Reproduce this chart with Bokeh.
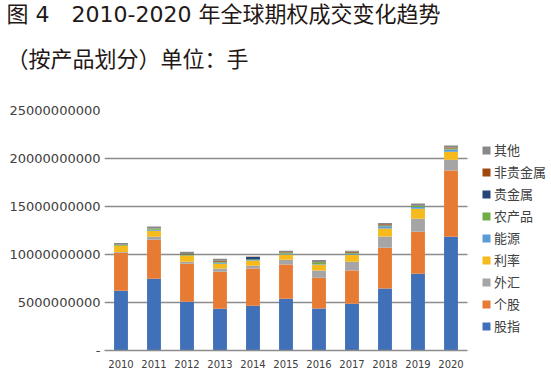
from bokeh.plotting import figure
from bokeh.models import Range1d, Legend, LegendItem, Title, FixedTicker
from bokeh.embed import file_html
from bokeh.resources import INLINE

years = [2010, 2011, 2012, 2013, 2014, 2015, 2016, 2017, 2018, 2019, 2020]
series_names = ["股指", "个股", "外汇", "利率", "能源", "农产品", "贵金属", "非贵金属", "其他"]

gu_zhi = [6.22e9, 7.47e9, 5.07e9, 4.34e9, 4.66e9, 5.39e9, 4.38e9, 4.86e9, 6.46e9, 7.99e9, 11.84e9]
ge_gu = [3.96e9, 4.06e9, 3.96e9, 3.86e9, 3.88e9, 3.57e9, 3.19e9, 3.47e9, 4.24e9, 4.37e9, 6.91e9]
wai_hui = [0.08e9, 0.31e9, 0.21e9, 0.34e9, 0.28e9, 0.49e9, 0.76e9, 0.91e9, 1.18e9, 1.36e9, 1.11e9]
li_lv = [0.64e9, 0.63e9, 0.62e9, 0.49e9, 0.52e9, 0.55e9, 0.60e9, 0.73e9, 0.83e9, 1.04e9, 0.84e9]
neng_yuan = [0.02e9, 0.10e9, 0.03e9, 0.10e9, 0.05e9, 0.10e9, 0.05e9, 0.10e9, 0.24e9, 0.20e9, 0.25e9]
nong_chan = [0.08e9, 0.10e9, 0.10e9, 0.10e9, 0.10e9, 0.10e9, 0.20e9, 0.10e9, 0.08e9, 0.10e9, 0.08e9]
gui_jin = [0.01e9, 0.02e9, 0.02e9, 0.02e9, 0.24e9, 0.02e9, 0.02e9, 0.02e9, 0.02e9, 0.02e9, 0.02e9]
fei_gui = [0.02e9, 0.03e9, 0.03e9, 0.10e9, 0.03e9, 0.03e9, 0.03e9, 0.10e9, 0.10e9, 0.03e9, 0.10e9]
qi_ta = [0.17e9, 0.20e9, 0.24e9, 0.20e9, 0.03e9, 0.15e9, 0.20e9, 0.10e9, 0.12e9, 0.20e9, 0.20e9]

y_ticks = [0, 5000000000, 10000000000, 15000000000, 20000000000, 25000000000]

title_line1 = "图 4\u20032010-2020 年全球期权成交变化趋势"
title_line2 = "（按产品划分）单位：手"

colors = ["#4070B8", "#E87B34", "#A5A5A5", "#F7BA1C", "#5B9BD5", "#70AD47", "#264478", "#9E480E", "#888888"]

data = {"year": years}
for name, vals in zip(series_names, [gu_zhi, ge_gu, wai_hui, li_lv, neng_yuan, nong_chan, gui_jin, fei_gui, qi_ta]):
    data[name] = vals

W, H = 551, 377
LEFT, TOP, BOTTOM = 104, 110, 27

# plot area extends to the right so the legend can sit inside it
x_lo, x_hi = years[0] - 0.5, years[-1] + 0.5
p = figure(width=W, height=H, output_backend="svg", toolbar_location=None,
           x_range=Range1d(x_lo, x_lo + (W - LEFT) / 33),
           y_range=Range1d(0, 25000000000))
p.min_border_left = LEFT
p.min_border_right = 0
p.min_border_top = TOP
p.min_border_bottom = BOTTOM
p.outline_line_color = None

rs = p.vbar_stack(series_names, x="year", width=0.42, color=colors, line_color=None, source=data)

p.xgrid.grid_line_color = None
p.ygrid.grid_line_color = "#8C8C8C"
p.ygrid.grid_line_width = 1.5
p.ygrid.ticker = FixedTicker(ticks=y_ticks[1:])
p.ygrid.cross_bounds = (x_lo, x_hi)

p.yaxis.ticker = FixedTicker(ticks=y_ticks)
p.yaxis.major_label_overrides = {0: "-"}
p.yaxis.axis_line_color = None
p.yaxis.major_tick_line_color = None
p.yaxis.minor_tick_line_color = None
p.yaxis.major_tick_out = 0
p.yaxis.minor_tick_out = 0
p.yaxis.major_label_standoff = 4
p.yaxis.major_label_text_font = "DejaVu Sans"
p.yaxis.major_label_text_font_size = "13px"
p.yaxis.major_label_text_color = "#404040"
p.yaxis.formatter.use_scientific = False

p.xaxis.ticker = FixedTicker(ticks=years)
p.xaxis.bounds = (x_lo, x_hi)
p.xaxis.axis_line_color = "#8C8C8C"
p.xaxis.axis_line_width = 1.5
p.xaxis.major_tick_line_color = None
p.xaxis.minor_tick_line_color = None
p.xaxis.major_label_standoff = 3
p.xaxis.major_label_text_font = "DejaVu Sans"
p.xaxis.major_label_text_font_size = "10px"
p.xaxis.major_label_text_color = "#404040"

items = [LegendItem(label=n, renderers=[r]) for n, r in zip(series_names, rs)]
items.reverse()
legend = Legend(items=items, location=(377, 15), orientation="vertical",
                glyph_width=10, glyph_height=10, label_height=19, spacing=3,
                label_standoff=3, padding=0, margin=0,
                border_line_color=None, background_fill_alpha=0,
                label_text_font="Noto Sans CJK SC", label_text_font_size="13px",
                label_text_color="#404040")
p.add_layout(legend, "center")

title_font = "'DejaVu Sans', 'Noto Sans CJK SC'"
title = Title(text=title_line1 + "\n" + title_line2 + "\n", align="left", offset=-(LEFT - 6),
              vertical_align="top", standoff=-17, text_line_height=1.8,
              text_font=title_font, text_font_size="22px", text_font_style="normal",
              text_color="#231815")
p.add_layout(title, "above")

open("out.html", "w").write(file_html(p, INLINE))
